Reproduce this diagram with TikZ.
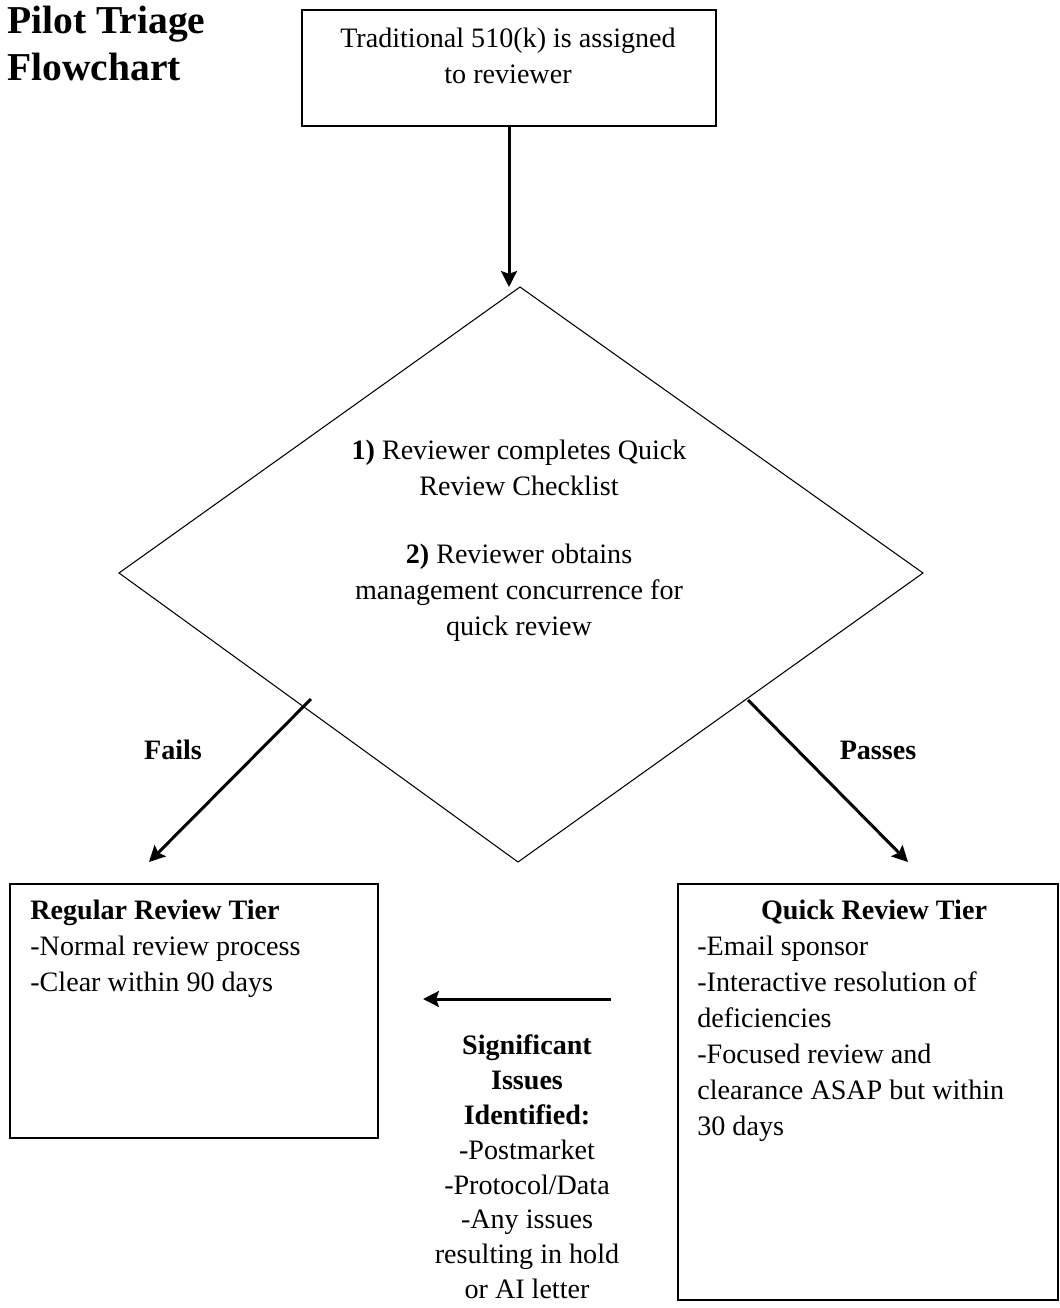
\documentclass[tikz,border=0pt]{standalone}
\usepackage{fontspec}
\setmainfont{Liberation Serif}
\usetikzlibrary{arrows.meta}

\begin{document}
\begin{tikzpicture}[x=0.02cm,y=-0.02cm,
  box/.style={draw,shape=rectangle,line width=0.9pt,inner sep=0pt},
  txt/.style={inner sep=0pt,font=\fontsize{16}{20.5}\selectfont},
  arr/.style={line width=1.7pt,-{Stealth[length=9pt,width=9pt,inset=1.5pt]}}]
  \useasboundingbox (0,0) rectangle (1060,1308);
  % title
  \node[inner sep=0pt,anchor=north west,align=left,font=\fontsize{22.5}{26.5}\selectfont\bfseries] (title) at (7,6) {Pilot Triage\\Flowchart};
  % boxes
  \node[box,minimum width=8.28cm,minimum height=2.32cm] (start) at (509,68) {};
  \node[box,minimum width=7.36cm,minimum height=5.08cm] (regular) at (194,1011) {};
  \node[box,minimum width=7.6cm,minimum height=8.32cm] (quick) at (868,1092) {};
  \node[txt,align=center] (starttext) at (508,56) {Traditional 510(k) is assigned\\to reviewer};
  \node[txt,align=left,anchor=north west] (regulartext) at (30,900) {\textbf{Regular Review Tier}\\-Normal review process\\-Clear within 90 days};
  \node[txt,anchor=base,font=\fontsize{16}{20.5}\selectfont\bfseries] (quicktitle) at (874,919) {Quick Review Tier};
  \node[txt,align=left,anchor=north west] (quicktext) at (697,936) {-Email sponsor\\-Interactive resolution of\\deficiencies\\-Focused review and\\clearance ASAP but within\\30 days};
  % decision
  \coordinate (dtop) at (520,287);
  \coordinate (dleft) at (119,573);
  \coordinate (dright) at (923,573);
  \coordinate (dbot) at (518,862);
  \draw[line width=0.6pt] (dtop) -- (dright) -- (dbot) -- (dleft) -- cycle;
  \node[txt,align=center] (check) at (519,541) {\textbf{1)} Reviewer completes Quick\\Review Checklist\\[18pt]\textbf{2)} Reviewer obtains\\management concurrence for\\quick review};
  % arrows
  \coordinate (failfrom) at (311,699);
  \coordinate (failto) at (149,862);
  \coordinate (passfrom) at (748,700);
  \coordinate (passto) at (908,862);
  \coordinate (issuefrom) at (611,999);
  \coordinate (issueto) at (423,999);
  \draw[arr] (start.south) -- (start.south |- dtop);
  \draw[arr] (failfrom) -- (failto);
  \draw[arr] (passfrom) -- (passto);
  \draw[arr] (issuefrom) -- (issueto);
  \node[txt,font=\fontsize{16}{20.5}\selectfont\bfseries] (fails) at (173,750) {Fails};
  \node[txt,font=\fontsize{16}{20.5}\selectfont\bfseries] (passes) at (878,750) {Passes};
  \node[txt,align=center,anchor=north,font=\fontsize{16}{19.9}\selectfont] (issues) at (527,1034) {\textbf{Significant}\\\textbf{Issues}\\\textbf{Identified:}\\-Postmarket\\-Protocol/Data\\-Any issues\\resulting in hold\\or AI letter};
\end{tikzpicture}
\end{document}
